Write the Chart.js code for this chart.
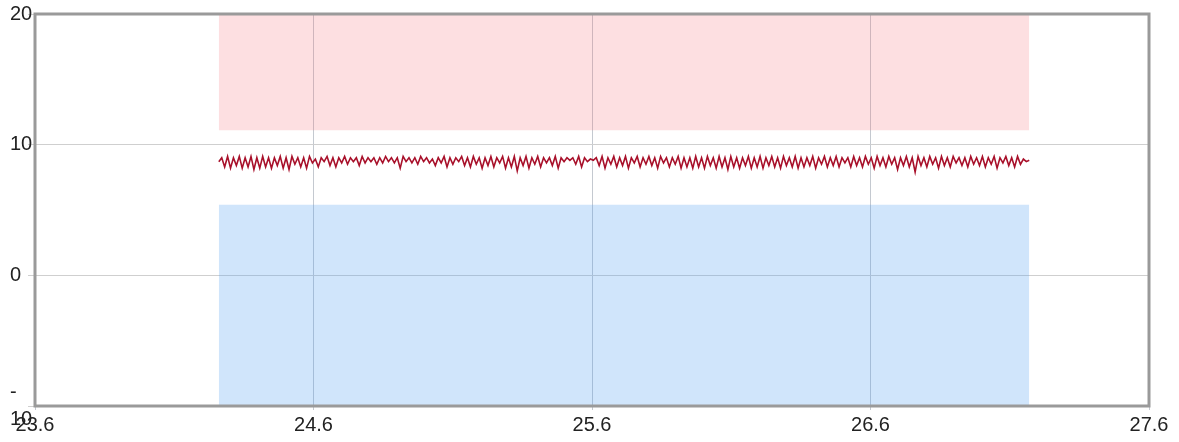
<!DOCTYPE html>
<html>
<head>
<meta charset="utf-8">
<script src="https://cdn.jsdelivr.net/npm/chart.js@4.4.0/dist/chart.umd.js"></script>
<style>
  html, body { margin: 0; padding: 0; background: #fff; }
  #wrap { width: 1179px; height: 442px; position: relative; }
</style>
</head>
<body>
<div id="wrap"><canvas id="chart"></canvas></div>
<script>
// axis ticks
const xTicks = [23.6, 24.6, 25.6, 26.6, 27.6];
const yTicks = [-10, 0, 10, 20];
const yTickLabels = [['-', '10'], '0', '10', '20'];

// shaded bands: [from, to]
const bandX = [24.26, 27.17];
const highBand = [11.1, 20];
const lowBand = [-10, 5.4];

// measured signal, evenly sampled between lineStart and lineEnd
const lineStart = 24.26;
const lineEnd = 27.17;
const signal = [
  8.7, 9.0, 8.3, 9.1, 8.2, 9.0, 8.4, 9.1, 8.2, 9.0, 8.3, 9.1, 8.1, 9.0, 8.2, 9.1, 8.3, 9.0, 8.2, 9.0,
  8.4, 9.1, 8.2, 9.0, 8.1, 9.1, 8.5, 9.0, 8.3, 9.0, 8.2, 9.1, 8.6, 8.9, 8.3, 9.0, 8.7, 9.1, 8.4, 9.0,
  8.3, 9.0, 8.6, 9.1, 8.5, 9.0, 8.7, 9.0, 8.4, 9.1, 8.6, 9.0, 8.7, 9.0, 8.5, 9.0, 8.6, 9.1, 8.7, 9.0,
  8.6, 9.0, 8.2, 9.1, 8.7, 9.0, 8.6, 9.0, 8.5, 9.1, 8.7, 9.0, 8.6, 8.9, 8.4, 9.0, 8.6, 9.1, 8.3, 9.0,
  8.5, 9.0, 8.7, 9.1, 8.4, 9.0, 8.3, 9.1, 8.5, 9.0, 8.2, 9.0, 8.4, 9.1, 8.3, 9.0, 8.6, 9.1, 8.2, 9.0,
  8.3, 9.1, 8.0, 9.0, 8.4, 9.1, 8.2, 9.0, 8.5, 9.1, 8.3, 9.0, 8.6, 9.0, 8.4, 9.1, 8.2, 9.0, 8.7, 9.0,
  8.8, 9.0, 8.5, 9.1, 8.3, 9.0, 8.7, 8.9, 8.8, 9.0, 8.4, 9.1, 8.2, 9.0, 8.5, 9.1, 8.3, 9.0, 8.4, 9.1,
  8.2, 9.0, 8.6, 9.1, 8.3, 9.0, 8.5, 9.1, 8.4, 9.0, 8.2, 9.1, 8.6, 9.0, 8.3, 9.0, 8.5, 9.1, 8.2, 9.0,
  8.3, 9.0, 8.2, 9.1, 8.3, 9.0, 8.2, 9.1, 8.4, 9.0, 8.2, 9.1, 8.3, 9.0, 8.1, 9.1, 8.3, 9.0, 8.2, 9.0,
  8.4, 9.1, 8.2, 9.0, 8.3, 9.1, 8.2, 9.0, 8.4, 9.1, 8.3, 9.0, 8.2, 9.1, 8.4, 9.0, 8.3, 9.1, 8.2, 9.0,
  8.3, 9.0, 8.4, 9.1, 8.2, 9.0, 8.5, 9.1, 8.3, 9.0, 8.4, 9.1, 8.3, 9.0, 8.6, 9.0, 8.3, 9.1, 8.4, 9.0,
  8.3, 9.1, 8.5, 9.0, 8.2, 9.1, 8.4, 9.0, 8.3, 9.1, 8.5, 9.0, 8.1, 9.0, 8.4, 9.1, 8.3, 9.0, 7.9, 9.1,
  8.4, 9.0, 8.3, 9.1, 8.5, 9.0, 8.2, 9.1, 8.4, 9.0, 8.3, 9.1, 8.6, 9.0, 8.4, 9.0, 8.3, 9.1, 8.5, 9.0,
  8.4, 9.1, 8.3, 9.0, 8.5, 9.1, 8.2, 9.0, 8.6, 9.1, 8.4, 9.0, 8.3, 9.1, 8.5, 8.9, 8.7, 8.8
];

const step = (lineEnd - lineStart) / (signal.length - 1);
const signalPoints = signal.map((v, i) => ({ x: lineStart + i * step, y: v }));

// frame round the plot area
const framePlugin = {
  id: 'frame',
  afterDatasetsDraw(chart) {
    const { ctx, chartArea: a } = chart;
    ctx.save();
    ctx.strokeStyle = '#9a9a9a';
    ctx.lineWidth = 3;
    ctx.strokeRect(a.left, a.top, a.right - a.left, a.bottom - a.top);
    ctx.restore();
  }
};

const font = { family: "'Liberation Sans', Arial, sans-serif", size: 20, lineHeight: 1.35 };

new Chart(document.getElementById('chart'), {
  type: 'line',
  data: {
    datasets: [
      {
        data: [{ x: bandX[0], y: highBand[1] }, { x: bandX[1], y: highBand[1] }],
        borderWidth: 0,
        pointRadius: 0,
        backgroundColor: 'rgba(245, 110, 120, 0.22)',
        fill: { value: highBand[0] }
      },
      {
        data: [{ x: bandX[0], y: lowBand[1] }, { x: bandX[1], y: lowBand[1] }],
        borderWidth: 0,
        pointRadius: 0,
        backgroundColor: 'rgba(80, 160, 240, 0.27)',
        fill: { value: lowBand[0] }
      },
      {
        data: signalPoints,
        borderColor: '#a8102a',
        borderWidth: 1.6,
        pointRadius: 0,
        tension: 0,
        fill: false
      }
    ]
  },
  options: {
    responsive: true,
    maintainAspectRatio: false,
    animation: false,
    layout: { padding: { left: 10, right: 30, top: 14, bottom: 0 } },
    plugins: { legend: { display: false }, tooltip: { enabled: false } },
    scales: {
      x: {
        type: 'linear',
        min: xTicks[0],
        max: xTicks[xTicks.length - 1],
        afterBuildTicks: s => { s.ticks = xTicks.map(v => ({ value: v })); },
        afterFit: s => { s.height = 36; },
        grid: { color: '#c4c9d0', lineWidth: 1, tickLength: 4 },
        border: { display: false },
        ticks: {
          color: '#222',
          font: font,
          padding: 2,
          maxRotation: 0,
          autoSkip: false,
          callback: v => v.toFixed(1)
        }
      },
      y: {
        min: yTicks[0],
        max: yTicks[yTicks.length - 1],
        afterBuildTicks: s => { s.ticks = yTicks.map(v => ({ value: v })); },
        afterFit: s => { s.width = 25; },
        grid: { color: '#cfcfcf', lineWidth: 1, tickLength: 7 },
        border: { display: false },
        ticks: {
          color: '#222',
          font: font,
          padding: 0,
          crossAlign: 'far',
          autoSkip: false,
          callback: v => yTickLabels[yTicks.indexOf(v)]
        }
      }
    }
  },
  plugins: [framePlugin]
});
</script>
</body>
</html>
